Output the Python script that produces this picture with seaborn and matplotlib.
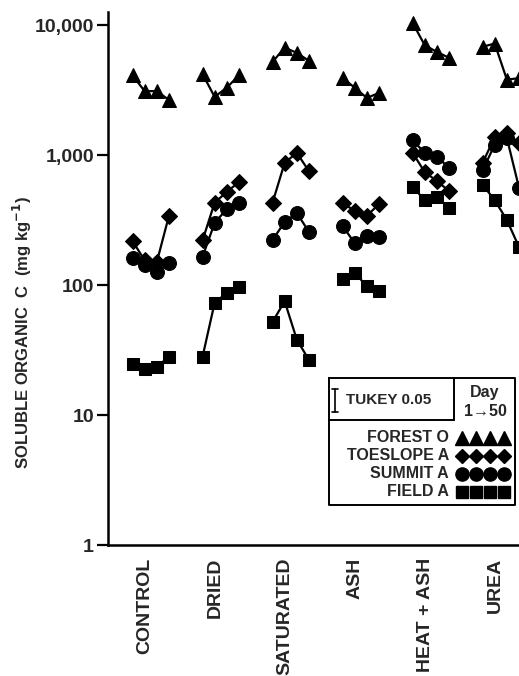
#plot.py
# soluble organic C by treatment, 4 soils, day 1 -> 50

import pandas as pd
import numpy as np
import seaborn as sns
import matplotlib.pyplot as plt

#treatments and soils
treatments = ['CONTROL', 'DRIED', 'SATURATED', 'ASH', 'HEAT + ASH', 'UREA']
soils = ['FOREST O', 'TOESLOPE A', 'SUMMIT A', 'FIELD A']
days = [1, 2, 3, 4]  # sampling order, day 1 -> day 50

#values (mg kg-1), 4 days per treatment
forest_o = [[4100, 3100, 3100, 2650],
            [4200, 2800, 3300, 4100],
            [5200, 6700, 6100, 5300],
            [3900, 3300, 2750, 3000],
            [10400, 7000, 6200, 5600],
            [6800, 7200, 3800, 3900]]
toeslope_a = [[218, 155, 150, 340],
              [220, 430, 520, 620],
              [430, 870, 1040, 750],
              [430, 370, 340, 420],
              [1040, 740, 630, 530],
              [870, 1370, 1470, 1240]]
summit_a = [[160, 143, 126, 148],
            [165, 300, 385, 425],
            [222, 305, 358, 256],
            [285, 210, 238, 236],
            [1300, 1040, 970, 800],
            [760, 1200, 1350, 560]]
field_a = [[24.5, 22.5, 23.5, 28],
           [28, 73, 87, 96],
           [52, 75, 38, 26.5],
           [111, 124, 98, 90],
           [570, 450, 475, 390],
           [590, 450, 316, 196]]

series = {'FOREST O': forest_o, 'TOESLOPE A': toeslope_a,
          'SUMMIT A': summit_a, 'FIELD A': field_a}
markers = {'FOREST O': '^', 'TOESLOPE A': 'D', 'SUMMIT A': 'o', 'FIELD A': 's'}
msizes = {'FOREST O': 10, 'TOESLOPE A': 8, 'SUMMIT A': 10, 'FIELD A': 8.5}

#build a long table
rows = []
offsets = [-0.26, -0.087, 0.087, 0.26]
for soil in soils:
    for i, t in enumerate(treatments):
        for d in range(4):
            rows.append({'soil': soil, 'treatment': t, 'day': days[d],
                         'xpos': i + offsets[d], 'value': series[soil][i][d]})
df = pd.DataFrame(rows)

sns.set_style('ticks')
plt.rcParams['font.family'] = ['Liberation Sans', 'DejaVu Sans']
plt.rcParams['font.weight'] = 'bold'

fig = plt.figure(figsize=(5.19, 6.76), dpi=100)
ax = fig.add_axes([108 / 519, 131 / 676, 1 - 108 / 519, 533 / 676])

#draw bottom to top so triangles sit on top
for soil in ['FIELD A', 'SUMMIT A', 'TOESLOPE A', 'FOREST O']:
    sub = df[df['soil'] == soil]
    sns.lineplot(data=sub, x='xpos', y='value', units='treatment', estimator=None,
                 marker=markers[soil], markersize=msizes[soil], color='black',
                 markeredgecolor='black', linewidth=1.6, sort=False, legend=False, ax=ax)

ax.set_yscale('log')
ax.set_ylim(1, 10 ** 4.1)
ax.set_xlim(-0.61, 5.26)
ax.set_yticks([1, 10, 100, 1000, 10000])
ax.set_yticklabels(['1', '10', '100', '1,000', '10,000'], fontsize=14, fontweight='bold')
ax.minorticks_off()
ax.yaxis.set_minor_locator(plt.NullLocator())
ax.tick_params(axis='y', length=8, width=1.6, pad=2, color='black')

#category labels below the axis
ax.set_xticks(np.arange(len(treatments)) - 0.08)
ax.set_xticklabels(treatments, rotation=90, fontsize=14, va='top', fontweight='bold')
ax.tick_params(axis='x', length=0, pad=9)

ax.set_xlabel('')
ax.set_ylabel('')
for side in ['top', 'right']:
    ax.spines[side].set_visible(False)
for side in ['left', 'bottom']:
    ax.spines[side].set_linewidth(1.8)
    ax.spines[side].set_color('black')

fig.text(22 / 519, 1 - 333 / 676, 'SOLUBLE ORGANIC  C  (mg kg$^{\\mathbf{-1}}$)',
         rotation=90, ha='center', va='center', fontsize=12, fontweight='bold')

#legend box (figure pixel coords)
def fx(x):
    return x / 519

def fy(y):
    return 1 - y / 676

def fline(xs, ys, **kw):
    fig.add_artist(plt.Line2D([fx(x) for x in xs], [fy(y) for y in ys],
                              color='black', **kw))

fline([329, 515, 515, 329, 329], [378, 378, 505, 505, 378], linewidth=1.4)
fline([329, 454], [420, 420], linewidth=1.4)
fline([454, 454], [378, 420], linewidth=1.4)
#tukey bar
fline([335, 335], [389, 412], linewidth=1.2)
fline([332, 338], [389, 389], linewidth=1.2)
fline([332, 338], [412, 412], linewidth=1.2)
fig.text(fx(346), fy(400), 'TUKEY 0.05', ha='left', va='center', fontsize=11, fontweight='bold')
fig.text(fx(485), fy(392), 'Day', ha='center', va='center', fontsize=11.5, fontweight='bold')
fig.text(fx(485), fy(411), '1\u219250', ha='center', va='center', fontsize=11.5, fontweight='bold')

legend_y = [438, 456, 474, 492]
for soil, y in zip(soils, legend_y):
    fig.text(fx(449), fy(y), soil, ha='right', va='center', fontsize=11.5, fontweight='bold')
    fig.add_artist(plt.Line2D([fx(x) for x in [462, 476, 490, 504]], [fy(y)] * 4,
                              linestyle='none', marker=markers[soil],
                              markersize=msizes[soil] - 0.5, color='black'))

plt.savefig('out.png', dpi=100)
